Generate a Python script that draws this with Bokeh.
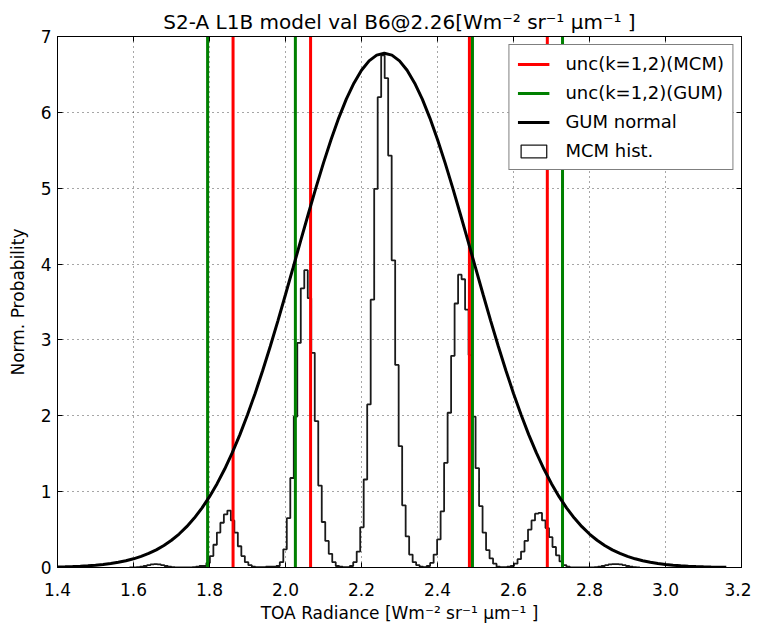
import numpy as np
from bokeh.plotting import figure
from bokeh.models import (Legend, LegendItem, LinearAxis,
                          FixedTicker, PrintfTickFormatter, Range1d)
from bokeh.embed import file_html
from bokeh.resources import INLINE

# ---------------- data ----------------
title_text = "S2-A L1B model val B6@2.26[Wm\u207b\u00b2 sr\u207b\u00b9 \u03bcm\u207b\u00b9 ]"
x_label = "TOA Radiance [Wm\u207b\u00b2 sr\u207b\u00b9 \u03bcm\u207b\u00b9 ]"
y_label = "Norm. Probability"

x_ticks = [1.4, 1.6, 1.8, 2.0, 2.2, 2.4, 2.6, 2.8, 3.0, 3.2]
y_ticks = [0, 1, 2, 3, 4, 5, 6, 7]
x_limits = (1.4, 3.2)
y_limits = (0.0, 7.0)

# uncertainty bounds (k=1,2)
unc_mcm = [1.862, 2.066, 2.484, 2.689]
unc_gum = [1.795, 2.026, 2.492, 2.729]

# GUM normal curve
gum_x = np.round(np.arange(1.40, 3.1601, 0.02), 2)
gum_y = [0.0066, 0.0091, 0.0125, 0.0169, 0.0227, 0.0303, 0.0401, 0.0527, 0.0687, 0.0890,
         0.1144, 0.1460, 0.1849, 0.2325, 0.290, 0.359, 0.441, 0.538, 0.651, 0.783,
         0.934, 1.105, 1.298, 1.514, 1.752, 2.013, 2.295, 2.597, 2.917, 3.252,
         3.599, 3.952, 4.308, 4.660, 5.005, 5.334, 5.642, 5.924, 6.174, 6.385,
         6.555, 6.679, 6.755, 6.780, 6.755, 6.679, 6.555, 6.385, 6.174, 5.924,
         5.642, 5.334, 5.005, 4.660, 4.308, 3.952, 3.599, 3.252, 2.917, 2.597,
         2.295, 2.013, 1.752, 1.514, 1.298, 1.105, 0.934, 0.783, 0.651, 0.538,
         0.441, 0.359, 0.290, 0.2325, 0.1849, 0.1460, 0.1144, 0.0890, 0.0687, 0.0527,
         0.0401, 0.0303, 0.0227, 0.0169, 0.0125, 0.0091, 0.0066, 0.0048, 0.0034]

# MCM histogram (normalised), uniform bins
hist_start = 1.5894
hist_width = 0.0092
hist_vals = [
    0, 0, 0.005, 0.01, 0.02, 0.03, 0.04, 0.045, 0.04, 0.03,            # -72..-63
    0.02, 0.01, 0.005, 0, 0, 0, 0, 0, 0.005, 0.01,                     # -62..-53
    0.02, 0.02, 0.06, 0.15, 0.30, 0.46, 0.59, 0.70, 0.75, 0.62,        # -52..-43
    0.46, 0.28, 0.15, 0.07, 0.03, 0.01, 0.005, 0.005, 0.005, 0.01,     # -42..-33
    0.01, 0.01, 0.02, 0.07, 0.24, 0.65, 1.18, 1.99, 2.96, 3.68,        # -32..-23
    3.92, 3.55, 2.83, 1.93, 1.08, 0.60, 0.35, 0.18, 0.07, 0.02,        # -22..-13
    0.01, 0.005, 0.005, 0.02, 0.07, 0.21, 0.53, 1.16, 2.15, 3.53,      # -12..-3
    4.99, 6.20, 6.75, 6.45, 5.43, 4.05, 2.67, 1.60, 0.82, 0.41,        # -2..7
    0.17, 0.07, 0.03, 0.01, 0.005, 0.02, 0.06, 0.17, 0.37, 0.74,       # 8..17
    1.38, 2.04, 2.79, 3.48, 3.86, 3.80, 3.40, 2.80, 1.99, 1.31,        # 18..27
    0.81, 0.46, 0.23, 0.12, 0.05, 0.01, 0.005, 0.005, 0.01, 0.02,      # 28..37
    0.05, 0.11, 0.21, 0.35, 0.50, 0.62, 0.71, 0.72, 0.62, 0.52,        # 38..47
    0.40, 0.27, 0.16, 0.08, 0.03, 0.01, 0, 0, 0, 0,                    # 48..57
    0, 0, 0, 0.005, 0.01, 0.02, 0.03, 0.04, 0.045, 0.045,              # 58..67
    0.04, 0.03, 0.02, 0.01, 0.005, 0]                                  # 68..73

# ---------------- figure ----------------
FONT = "DejaVu Sans"
FS = "17px"

p = figure(output_backend="svg", toolbar_location=None,
           x_range=Range1d(*x_limits), y_range=Range1d(*y_limits),
           min_border_left=57, min_border_top=36, min_border_right=10,
           min_border_bottom=40)
p.frame_width = 684
p.frame_height = 531

p.title.text = title_text
p.title.align = "center"
p.title.text_font = FONT
p.title.text_font_size = "20px"
p.title.text_font_style = "normal"
p.title.text_color = "black"
p.title.standoff = 6

p.outline_line_color = "black"
p.outline_line_width = 1
p.background_fill_color = "white"
p.border_fill_color = "white"

# grids
for g in (p.xgrid[0], p.ygrid[0]):
    g.grid_line_color = "black"
    g.grid_line_alpha = 0.7
    g.grid_line_dash = "1 4"
    g.grid_line_width = 1
p.xgrid[0].ticker = FixedTicker(ticks=x_ticks)
p.ygrid[0].ticker = FixedTicker(ticks=y_ticks)

def style_axis(ax, ticks, show_labels):
    ax.ticker = FixedTicker(ticks=ticks)
    ax.major_tick_in = 5
    ax.major_tick_out = 0
    ax.minor_tick_in = 0
    ax.minor_tick_out = 0
    ax.axis_line_color = "black"
    ax.major_tick_line_color = "black"
    ax.major_label_text_font = FONT
    ax.major_label_text_font_size = FS
    ax.major_label_text_color = "black" if show_labels else None
    ax.axis_label_text_font = FONT
    ax.axis_label_text_font_size = FS
    ax.axis_label_text_font_style = "normal"
    ax.axis_label_text_color = "black"

p.xaxis[0].formatter = PrintfTickFormatter(format="%.1f")
p.yaxis[0].formatter = PrintfTickFormatter(format="%d")
style_axis(p.xaxis[0], x_ticks, True)
style_axis(p.yaxis[0], y_ticks, True)
p.xaxis[0].axis_label = x_label
p.yaxis[0].axis_label = y_label
p.xaxis[0].major_label_standoff = 15
p.yaxis[0].major_label_standoff = 6
p.xaxis[0].axis_label_standoff = 4
p.yaxis[0].axis_label_standoff = 10

top_ax = LinearAxis()
right_ax = LinearAxis()
style_axis(top_ax, x_ticks, False)
style_axis(right_ax, y_ticks, False)
top_ax.major_label_text_font_size = "0px"
right_ax.major_label_text_font_size = "0px"
top_ax.major_label_standoff = 0
right_ax.major_label_standoff = 0
p.add_layout(top_ax, "above")
p.add_layout(right_ax, "right")

# histogram step outline
n = len(hist_vals)
edges = hist_start + hist_width * np.arange(n + 1)
hx = [edges[0]]
hy = [0.0]
for i, v in enumerate(hist_vals):
    hx += [edges[i], edges[i + 1]]
    hy += [v, v]
hx.append(edges[-1])
hy.append(0.0)
hist_r = p.line(hx, hy, line_color="#1a1a1a", line_width=1.8)

# legend proxy for histogram (hidden quads, shown only in legend)
hist_proxy = p.quad(left=edges[:-1], right=edges[1:], top=hist_vals, bottom=0,
                    fill_color="white", line_color="#1a1a1a", line_width=1.3)
hist_proxy.visible = False

# vertical uncertainty lines
y0 = [y_limits[0]] * len(unc_mcm)
y1 = [y_limits[1]] * len(unc_mcm)
gum_r = p.segment(x0=unc_gum, x1=unc_gum, y0=y0, y1=y1, line_color="#008000", line_width=3)
mcm_r = p.segment(x0=unc_mcm, x1=unc_mcm, y0=y0, y1=y1, line_color="#ff0000", line_width=3)

# GUM normal curve
norm_r = p.line(gum_x, gum_y, line_color="black", line_width=3)

legend = Legend(items=[
    LegendItem(label="unc(k=1,2)(MCM)", renderers=[mcm_r]),
    LegendItem(label="unc(k=1,2)(GUM)", renderers=[gum_r]),
    LegendItem(label="GUM normal", renderers=[norm_r]),
    LegendItem(label="MCM hist.", renderers=[hist_proxy]),
])
legend.location = "top_right"
legend.margin = 8
legend.padding = 8
legend.spacing = 8
legend.glyph_width = 32
legend.glyph_height = 16
legend.label_standoff = 16
legend.label_text_font = FONT
legend.label_text_font_size = "18px"
legend.label_text_color = "black"
legend.border_line_color = "black"
legend.border_line_width = 1
legend.background_fill_color = "white"
legend.background_fill_alpha = 1
p.add_layout(legend, "center")

open("out.html", "w").write(file_html(p, INLINE))
